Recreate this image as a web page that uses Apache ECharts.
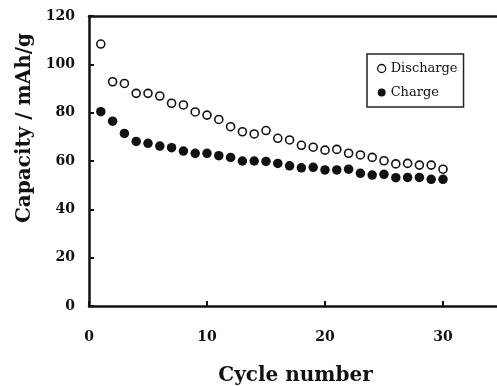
<!DOCTYPE html>
<html>
    <head>
        <title>Capacity vs cycle number</title>
        <meta charset="UTF-8">
        <script type="text/javascript" src="https://cdn.jsdelivr.net/npm/echarts@6/dist/echarts.min.js"></script>
        <style>
            html, body { margin: 0; padding: 0; background: #fff; }
        </style>
    </head>
    <body>
        <div id="container" style="width:497px;height:386px"></div>
        <script type="text/javascript">
            // data
            var cycles = [1, 2, 3, 4, 5, 6, 7, 8, 9, 10, 11, 12, 13, 14, 15,
                16, 17, 18, 19, 20, 21, 22, 23, 24, 25, 26, 27, 28, 29, 30];
            var discharge = [108.4, 92.8, 92.1, 88.0, 88.0, 86.9, 83.9, 83.2, 80.3, 79.0,
                77.2, 74.2, 72.1, 71.2, 72.6, 69.4, 68.7, 66.5, 65.7, 64.5,
                64.8, 63.2, 62.5, 61.5, 60.1, 58.8, 59.0, 58.3, 58.3, 56.6];
            var charge = [80.4, 76.5, 71.4, 68.1, 67.3, 66.2, 65.5, 64.1, 63.2, 63.2,
                62.2, 61.5, 60.0, 60.0, 59.8, 59.0, 58.0, 57.2, 57.4, 56.3,
                56.3, 56.6, 54.9, 54.2, 54.5, 53.1, 53.2, 53.2, 52.4, 52.4];
            var seriesNames = ['Discharge', 'Charge'];
            var xTitle = 'Cycle number';
            var yTitle = 'Capacity / mAh/g';

            function pairs(ys) {
                var out = [];
                for (var i = 0; i < cycles.length; i++) {
                    out.push([cycles[i], ys[i]]);
                }
                return out;
            }

            var font = 'DejaVu Serif';
            var myChart = echarts.init(document.getElementById('container'));
            var option = {
                backgroundColor: '#fff',
                animation: false,
                // plot box runs a little past the right edge, as in the picture
                grid: {left: 89, top: 16, width: 413, height: 290, outerBoundsMode: 'none'},
                legend: {
                    orient: 'vertical',
                    left: 367,
                    top: 54,
                    padding: [8, 6, 8, 10],
                    itemGap: 11,
                    itemWidth: 8,
                    itemHeight: 8,
                    itemTextGap: 5,
                    borderColor: '#222',
                    borderWidth: 1.5,
                    textStyle: {fontFamily: font, fontSize: 13, color: '#111'},
                    data: [
                        {name: seriesNames[0], icon: 'circle', itemStyle: {color: '#fff', borderColor: '#111', borderWidth: 1.3}},
                        {name: seriesNames[1], icon: 'circle', itemStyle: {color: '#111'}}
                    ]
                },
                xAxis: [{
                        type: 'value',
                        min: 0,
                        max: 35,
                        interval: 10,
                        name: xTitle,
                        nameLocation: 'middle',
                        nameGap: 60,
                        nameTextStyle: {fontFamily: font, fontSize: 20, fontWeight: 'bold', color: '#111'},
                        axisLine: {lineStyle: {color: '#111', width: 2.5}},
                        axisTick: {inside: true, length: 5, lineStyle: {color: '#111', width: 2}},
                        axisLabel: {fontFamily: font, fontSize: 14, fontWeight: 'bold', color: '#111', margin: 24, showMaxLabel: false},
                        splitLine: {show: false}
                    }, {
                        type: 'value',
                        position: 'top',
                        min: 0,
                        max: 35,
                        axisLine: {show: true, lineStyle: {color: '#111', width: 2.5}},
                        axisTick: {show: false},
                        axisLabel: {show: false},
                        splitLine: {show: false}
                    }],
                yAxis: {
                    type: 'value',
                    min: 0,
                    max: 120,
                    interval: 20,
                    name: yTitle,
                    nameLocation: 'middle',
                    nameGap: 54,
                    nameTextStyle: {fontFamily: font, fontSize: 20, fontWeight: 'bold', color: '#111', padding: [0, 0, 0, 66]},
                    axisLine: {show: true, lineStyle: {color: '#111', width: 2.5}},
                    axisTick: {inside: true, length: 5, lineStyle: {color: '#111', width: 2}},
                    axisLabel: {fontFamily: font, fontSize: 14, fontWeight: 'bold', color: '#111', margin: 14},
                    splitLine: {show: false}
                },
                series: [{
                        name: seriesNames[0],
                        type: 'scatter',
                        symbol: 'circle',
                        symbolSize: 8,
                        itemStyle: {color: '#fff', borderColor: '#111', borderWidth: 1.6, opacity: 1},
                        data: pairs(discharge)
                    }, {
                        name: seriesNames[1],
                        type: 'scatter',
                        symbol: 'circle',
                        symbolSize: 9.5,
                        itemStyle: {color: '#111', opacity: 1},
                        data: pairs(charge)
                    }]
            };
            myChart.setOption(option);
        </script>
    </body>
</html>
